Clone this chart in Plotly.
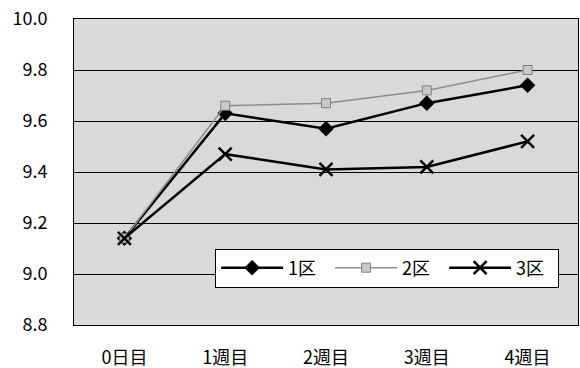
import plotly.graph_objects as go

categories = ["0日目", "1週目", "2週目", "3週目", "4週目"]
series_names = ["1区", "2区", "3区"]
ku1 = [9.14, 9.63, 9.57, 9.67, 9.74]
ku2 = [9.14, 9.66, 9.67, 9.72, 9.80]
ku3 = [9.14, 9.47, 9.41, 9.42, 9.52]
y_ticks = [8.8, 9.0, 9.2, 9.4, 9.6, 9.8, 10.0]
y_ticktext = ["8.8", "9.0", "9.2", "9.4", "9.6", "9.8", "10.0"]

font_family = "Noto Sans CJK JP, Noto Sans, sans-serif"

fig = go.Figure()
fig.add_trace(go.Scatter(
    x=categories, y=ku1, name=series_names[0], mode="lines+markers",
    line=dict(color="black", width=2.5),
    marker=dict(symbol="diamond", size=12, color="black"),
))
fig.add_trace(go.Scatter(
    x=categories, y=ku2, name=series_names[1], mode="lines+markers",
    line=dict(color="#8c8c8c", width=1.5),
    marker=dict(symbol="square", size=9, color="#c8c8c8",
                line=dict(color="#808080", width=1)),
))
fig.add_trace(go.Scatter(
    x=categories, y=ku3, name=series_names[2], mode="lines+markers",
    line=dict(color="black", width=2.5),
    marker=dict(symbol="x-thin", size=13, color="black",
                line=dict(color="black", width=2.5)),
))

fig.update_layout(
    width=580, height=368,
    margin=dict(l=74, r=2, t=19, b=43, autoexpand=False),
    paper_bgcolor="white",
    plot_bgcolor="#d9d9d9",
    font=dict(family=font_family, size=18, color="black"),
    legend=dict(
        orientation="h", x=0.28, y=0.25, xanchor="left", yanchor="top",
        bgcolor="white", bordercolor="black", borderwidth=1,
        font=dict(size=18), itemwidth=62,
        entrywidth=37, entrywidthmode="pixels",
        tracegroupgap=0,
    ),
    showlegend=True,
)
fig.update_xaxes(
    type="category", range=[-0.5, 4.5], automargin=False,
    showgrid=False, showline=True, linecolor="black", linewidth=1, mirror=True,
    ticks="", ticklabelstandoff=16,
    tickfont=dict(size=18),
)
fig.update_yaxes(
    range=[8.8, 10.0], tickvals=y_ticks, ticktext=y_ticktext, automargin=False,
    showgrid=True, gridcolor="black", gridwidth=1,
    showline=True, linecolor="black", linewidth=1, mirror=True,
    ticks="", ticklabelstandoff=22, zeroline=False,
    tickfont=dict(size=18),
)

fig.write_html("out.html", config={"displayModeBar": False},
               post_script="document.body.style.margin='0';")
